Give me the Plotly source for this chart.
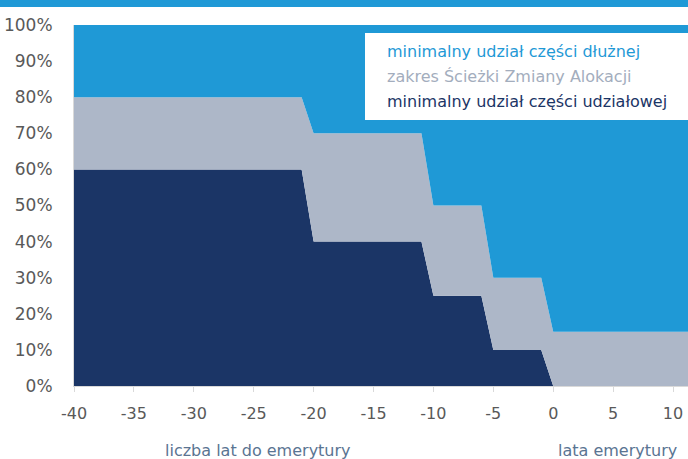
import plotly.graph_objects as go

years = [-40, -21, -20, -11, -10, -6, -5, -1, 0, 12]
equity_min = [60, 60, 40, 40, 25, 25, 10, 10, 0, 0]
path_range = [20, 20, 30, 30, 25, 25, 20, 20, 15, 15]
debt_min = [20, 20, 30, 30, 50, 50, 70, 70, 85, 85]

x_ticks = [-40, -35, -30, -25, -20, -15, -10, -5, 0, 5, 10]
x_labels = [str(v) for v in x_ticks]
y_ticks = list(range(0, 101, 10))
y_labels = [f"{v}%" for v in y_ticks]

c_dark = "#1b3566"
c_grey = "#adb7c8"
c_blue = "#1f99d6"

fig = go.Figure()
for name, vals, col in [
    ("minimalny udział części udziałowej", equity_min, c_dark),
    ("zakres Ścieżki Zmiany Alokacji", path_range, c_grey),
    ("minimalny udział części dłużnej", debt_min, c_blue),
]:
    fig.add_trace(go.Scatter(x=years, y=vals, name=name, stackgroup="one",
                             mode="lines", line=dict(width=0, color=col),
                             fillcolor=col, hoverinfo="skip"))

font_fam = "DejaVu Sans"
fig.update_layout(
    width=688, height=459,
    margin=dict(l=74, r=0, t=25, b=73),
    paper_bgcolor="white", plot_bgcolor="white",
    showlegend=False,
    font=dict(family=font_fam, size=16, color="#595959"),
    xaxis=dict(range=[-40, 11.25], tickvals=x_ticks, ticktext=x_labels,
               showgrid=False, zeroline=False, automargin=False,
               showline=True, linecolor="#d9d9d9", linewidth=1,
               ticks="outside", ticklen=5, tickcolor="#d9d9d9",
               ticklabelstandoff=8,
               tickfont=dict(size=16, color="#595959")),
    yaxis=dict(range=[0, 100], tickvals=y_ticks, ticktext=y_labels, showgrid=False,
               zeroline=False, showline=True, linecolor="#d9d9d9", linewidth=1,
               ticks="", ticklabelstandoff=17, automargin=False,
               tickfont=dict(size=17, color="#595959")),
)

# top banner
fig.add_shape(type="rect", xref="paper", yref="paper", x0=-0.2, x1=1.0,
              y0=(386 - 7) / 361.0, y1=(386 + 2) / 361.0,
              fillcolor=c_blue, line=dict(width=0), layer="above")
# legend box
fig.add_shape(type="rect", xref="paper", yref="paper",
              x0=(365 - 74) / 614.0, x1=1.0,
              y0=(386 - 120) / 361.0, y1=(386 - 33) / 361.0,
              fillcolor="white", line=dict(width=0), layer="above")
leg = [("minimalny udział części dłużnej", c_blue, 52),
       ("zakres Ścieżki Zmiany Alokacji", "#a3adbd", 77),
       ("minimalny udział części udziałowej", c_dark, 101)]
for txt, col, ypx in leg:
    fig.add_annotation(text=txt, xref="paper", yref="paper",
                       x=(385 - 74) / 614.0, y=(386 - ypx) / 361.0,
                       xanchor="left", yanchor="middle", showarrow=False,
                       font=dict(size=16, color=col, family=font_fam))

fig.add_annotation(text="liczba lat do emerytury", xref="paper", yref="paper",
                   x=(258 - 74) / 614.0, y=(386 - 450) / 361.0, xanchor="center",
                   yanchor="middle", showarrow=False,
                   font=dict(size=16, color="#5a7492", family=font_fam))
fig.add_annotation(text="lata emerytury", xref="paper", yref="paper",
                   x=(617 - 74) / 614.0, y=(386 - 450) / 361.0, xanchor="center",
                   yanchor="middle", showarrow=False,
                   font=dict(size=16, color="#5a7492", family=font_fam))

fig.write_html("out.html", config={"displayModeBar": False},
               post_script="document.body.style.margin='0';")
